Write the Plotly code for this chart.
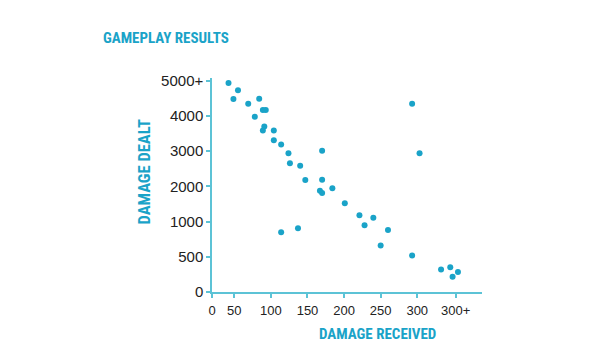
import numpy as np
import plotly.graph_objects as go

# Data
damage_received = [37, 55, 48, 69, 84, 78, 89, 93, 91, 89, 104, 104, 114, 124, 126, 140,
                   170, 147, 170, 167, 170, 184, 201, 221, 240, 228, 260, 250, 293, 293,
                   303, 331, 343, 353, 346, 114, 137]
damage_dealt = [4940, 4730, 4480, 4350, 4490, 3980, 4170, 4170, 3700, 3590, 3590, 3310,
                3190, 2940, 2660, 2590, 3010, 2180, 2190, 1880, 1810, 1950, 1520, 1180,
                1110, 950, 880, 660, 520, 4350, 2940, 320, 350, 285, 215, 850, 905]

# Axis tick values / labels (non-uniform scales in the original)
x_tick_values = [0, 50, 100, 150, 200, 250, 300, 350]
x_tick_labels = ["0", "50", "100", "150", "200", "250", "300", "300+"]
y_tick_values = [0, 500, 1000, 2000, 3000, 4000, 5000]
y_tick_labels = ["0", "500", "1000", "2000", "3000", "4000", "5000+"]

# tick positions on the drawn axes
x_tick_pos = [0, 0.61, 1.61, 2.61, 3.61, 4.61, 5.61, 6.66]
y_tick_pos = [0, 1, 2, 3, 4, 5, 6]

def xmap(v):
    return np.interp(v, x_tick_values + [400], x_tick_pos + [7.71])

def ymap(v):
    return np.interp(v, y_tick_values, y_tick_pos)

TEAL = "#1aa3c8"
AXIS = "#5cc3d6"
TITLE_FONT = "Roboto Condensed"

# page body has an 8px margin; figure is drawn 8px in from the window edge
OFF = 8
L, T, R, B = 212 - OFF, 78 - OFF, 112, 68
W, H = 594 - OFF, 360 - OFF
PW, PH = W - L - R, H - T - B

def px(x):
    return (x - OFF - L) / PW

def py(y):
    return (H - B - (y - OFF)) / PH

fig = go.Figure()
fig.add_trace(go.Scatter(
    x=xmap(damage_received), y=ymap(damage_dealt), mode="markers",
    marker=dict(color=TEAL, size=6, line=dict(width=0)),
    hoverinfo="skip", showlegend=False,
))

fig.update_layout(
    width=W, height=H,
    margin=dict(l=L, r=R, t=T, b=B),
    paper_bgcolor="white", plot_bgcolor="white",
    xaxis=dict(range=[0, 7.38], tickvals=x_tick_pos, ticktext=x_tick_labels,
               showgrid=False, zeroline=False, showline=True, linecolor=AXIS, linewidth=1.5,
               ticks="outside", ticklen=4, tickcolor=AXIS, tickwidth=1.5,
               ticklabelstandoff=2,
               tickfont=dict(family="Liberation Sans, Arial, sans-serif", size=13, color="#222")),
    yaxis=dict(range=[0, 6.08], tickvals=y_tick_pos, ticktext=y_tick_labels,
               showgrid=False, zeroline=False, showline=True, linecolor=AXIS, linewidth=1.5,
               ticks="outside", ticklen=4, tickcolor=AXIS, tickwidth=1.5,
               tickfont=dict(family="Liberation Sans, Arial, sans-serif", size=15, color="#222")),
    annotations=[
        dict(text="<b>GAMEPLAY RESULTS</b>", xref="paper", yref="paper",
             x=px(101), y=py(38), xanchor="left", yanchor="middle",
             showarrow=False, font=dict(family=TITLE_FONT, size=15, color=TEAL)),
        dict(text="<b>DAMAGE RECEIVED</b>", xref="paper", yref="paper",
             x=px(377.5), y=py(334), xanchor="center", yanchor="middle",
             showarrow=False, font=dict(family=TITLE_FONT, size=15, color=TEAL)),
        dict(text="<b>DAMAGE DEALT</b>", xref="paper", yref="paper",
             x=px(143.5), y=py(172), xanchor="center", yanchor="middle",
             textangle=-90, showarrow=False, font=dict(family=TITLE_FONT, size=16.5, color=TEAL)),
    ],
)

fig.write_html("out.html")
